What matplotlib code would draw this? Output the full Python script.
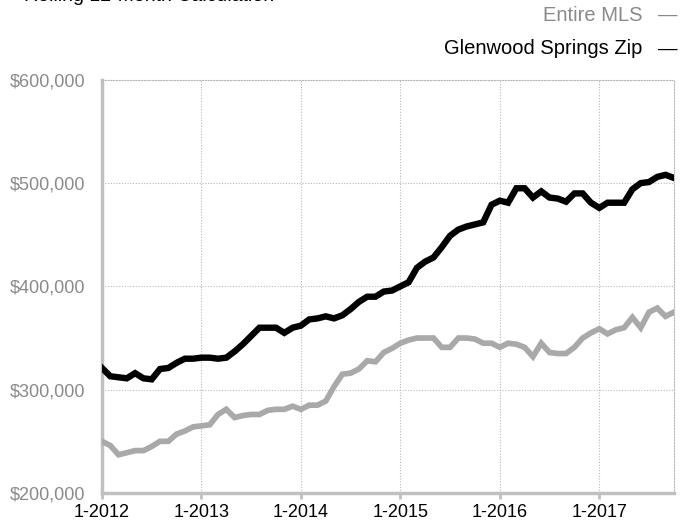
import matplotlib
matplotlib.use("Agg")
import matplotlib.pyplot as plt
from matplotlib.ticker import FuncFormatter

plt.rcParams['font.family'] = ['Liberation Sans', 'DejaVu Sans']

# monthly values, 1-2012 .. 10-2017 (in $1000)
glenwood = [321, 313, 312, 311, 316, 311, 310, 320, 321, 326, 330, 330,
            331, 331, 330, 331, 337, 344, 352, 360, 360, 360, 355, 360,
            362, 368, 369, 371, 369, 372, 378, 385, 390, 390, 395, 396,
            400, 404, 418, 424, 428, 438, 449, 455, 458, 460, 462, 479,
            483, 481, 495, 495, 486, 492, 486, 485, 482, 490, 490, 481,
            476, 481, 481, 481, 494, 500, 501, 506, 508, 505]
entire_mls = [250, 246, 237, 239, 241, 241, 245, 250, 250, 257, 260, 264,
              265, 266, 276, 281, 273, 275, 276, 276, 280, 281, 281, 284,
              281, 285, 285, 289, 303, 315, 316, 320, 328, 327, 336, 340,
              345, 348, 350, 350, 350, 341, 341, 350, 350, 349, 345, 345,
              341, 345, 344, 341, 332, 345, 336, 335, 335, 341, 350, 355,
              359, 354, 358, 360, 370, 360, 375, 379, 371, 375]
year_labels = ['1-2012', '1-2013', '1-2014', '1-2015', '1-2016', '1-2017']
y_ticks = [200000, 300000, 400000, 500000, 600000]

months = list(range(len(glenwood)))

fig = plt.figure(figsize=(6.89, 5.25), dpi=100)
ax = fig.add_axes([0.148, 0.061, 0.830, 0.787])

ax.plot(months, [v * 1000 for v in entire_mls], color='#a9a9a9', lw=4.1,
        solid_joinstyle='miter', zorder=3)
ax.plot(months, [v * 1000 for v in glenwood], color='black', lw=4.6,
        solid_joinstyle='miter', zorder=4)

ax.set_xlim(0, len(glenwood) - 1)
ax.set_ylim(200000, 600000)
ax.set_xticks([12 * i for i in range(len(year_labels))])
ax.set_xticklabels(year_labels)
ax.set_yticks(y_ticks)
ax.yaxis.set_major_formatter(FuncFormatter(lambda v, p: '${:,.0f}'.format(v)))

ax.grid(True, color='#b8b8b8', linestyle=(0, (1, 1.5)), lw=0.8)
ax.set_axisbelow(True)

for s in ['left', 'bottom']:
    ax.spines[s].set_color('#c0c0c0')
    ax.spines[s].set_linewidth(2.5)
for s in ['top', 'right']:
    ax.spines[s].set_color('#b8b8b8')
    ax.spines[s].set_linestyle((0, (1, 1.5)))
    ax.spines[s].set_linewidth(0.8)

ax.tick_params(axis='x', colors='#c0c0c0', length=4, width=2, labelcolor='black',
               labelsize=13, pad=4)
ax.tick_params(axis='y', length=0, labelcolor='#8a8a8a', labelsize=13, pad=12)

# legend as right aligned text
fig.text(0.933, 0.970, 'Entire MLS', color='#8a8a8a', fontsize=14.5, ha='right', va='center')
fig.text(0.955, 0.970, '\u2014', color='#8a8a8a', fontsize=14, ha='left', va='center')
fig.text(0.933, 0.907, 'Glenwood Springs Zip', color='black', fontsize=14.5, ha='right', va='center')
fig.text(0.955, 0.907, '\u2014', color='black', fontsize=14, ha='left', va='center')

# title cut off at the top of the image
fig.text(0.035, 0.999, 'Rolling 12-Month Calculation', color='black', fontsize=14,
         ha='left', va='baseline')

fig.savefig('out.png', dpi=100)
